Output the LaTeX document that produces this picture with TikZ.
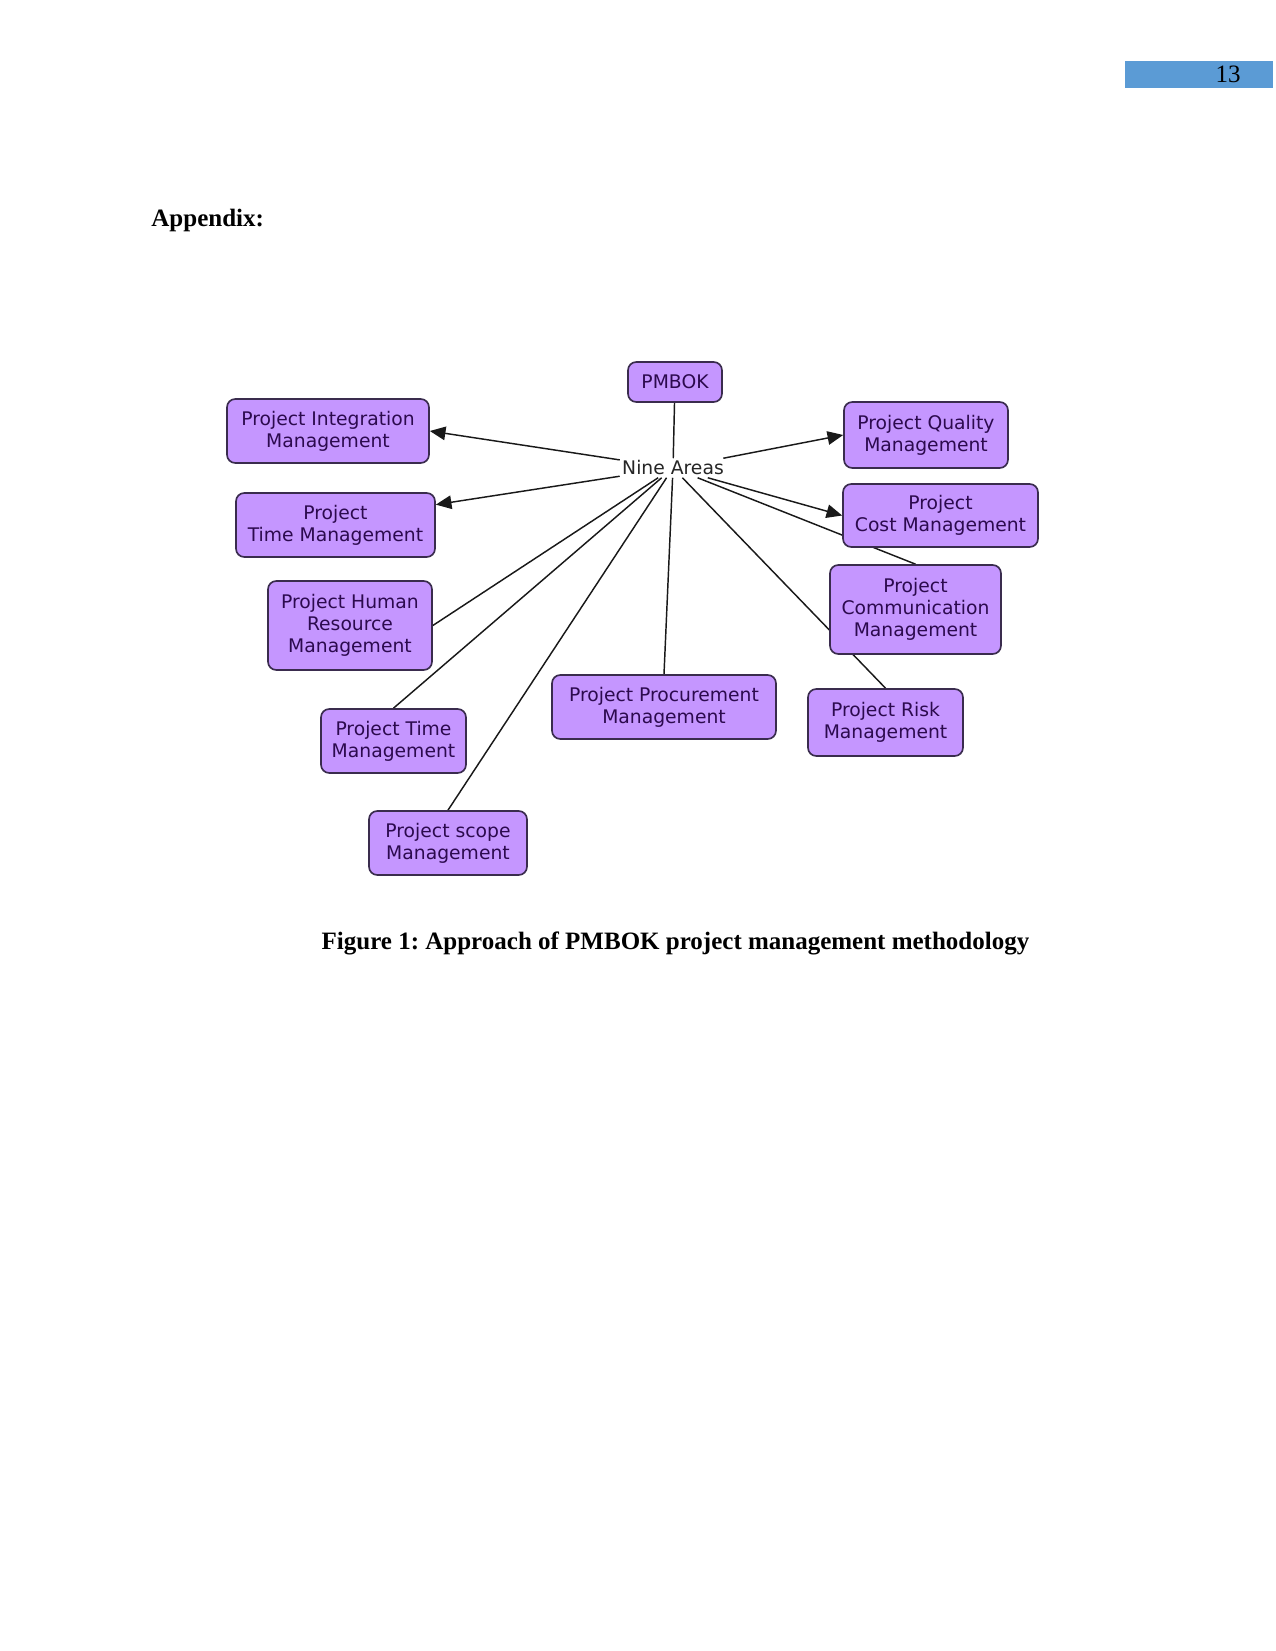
\documentclass[tikz,border=0pt]{standalone}
\usepackage{xcolor}
\usepackage{fontspec}
\setmainfont{Liberation Serif}
\newfontfamily\boxfont{DejaVu Sans}
\usetikzlibrary{arrows.meta, calc, backgrounds}
\definecolor{lilac}{HTML}{C596FF}
\definecolor{plum}{HTML}{2C0A4E}
\definecolor{edge}{HTML}{3A2C4E}
\definecolor{pagebar}{HTML}{5B9BD5}
\frenchspacing

\begin{document}
\begin{tikzpicture}[
  x=0.48pt, y=-0.48pt,
  every node/.style={inner sep=0pt},
  area/.style={
    draw=edge, fill=lilac, text=plum, line width=0.8pt,
    rounded corners=4pt, align=center,
    font=\boxfont\fontsize{9}{10.6}\selectfont
  },
  boxsize/.style 2 args={minimum width=#1*0.48pt, minimum height=#2*0.48pt},
  link/.style={draw=black!90, line width=0.7pt},
  arrow/.style={link, -{Triangle[length=7.5pt, width=6.5pt]}}
]
  \useasboundingbox (0,0) rectangle (1275,1651);

  \node[fill=pagebar, boxsize={148}{27}] (pagebox) at (1199,74.5) {};
  \node[anchor=base, font=\fontsize{12}{14}\selectfont] (pagenum) at (1228,83) {13};
  \node[anchor=base west, font=\bfseries\fontsize{12}{14}\selectfont] (appendix) at (151,227) {Appendix:};

  \node[area, boxsize={94}{40}] (pmbok) at (675,382) {PMBOK};
  \node[font=\boxfont\fontsize{9}{10.6}\selectfont, text=black!85, inner sep=1pt] (nine) at (673,468) {Nine Areas};
  \node[area, boxsize={202}{64}] (integ) at (328,431) {Project Integration\\Management};
  \node[area, boxsize={199}{64}] (time1) at (335.5,525) {Project\\Time Management};
  \node[area, boxsize={164}{89}] (hr) at (350,625.5) {Project Human\\Resource\\Management};
  \node[area, boxsize={145}{64}] (time2) at (393.5,741) {Project Time\\Management};
  \node[area, boxsize={158}{64}] (scope) at (448,843) {Project scope\\Management};
  \node[area, boxsize={224}{64}] (proc) at (664,707) {Project Procurement\\Management};
  \node[area, boxsize={164}{66}] (quality) at (926,435) {Project Quality\\Management};
  \node[area, boxsize={195}{63}] (cost) at (940.5,515.5) {Project\\Cost Management};
  \node[area, boxsize={171}{89}] (comm) at (915.5,609.5) {Project\\Communication\\Management};
  \node[area, boxsize={155}{67}] (risk) at (885.5,722.5) {Project Risk\\Management};

  \node[anchor=base, font=\bfseries\fontsize{12}{14}\selectfont] (caption) at (675.5,949) {Figure 1: Approach of PMBOK project management methodology};

  \begin{scope}[on background layer]
    \fill[white] (0,0) rectangle (1275,1651);
    \draw[link] (pmbok) -- (nine);
    \draw[arrow] (nine) -- (integ.east);
    \draw[arrow] (nine) -- ($(time1.north east)!0.19!(time1.south east)$);
    \draw[arrow] (nine) -- (quality.west);
    \draw[arrow] (nine) -- (cost.west);
    \draw[link] (nine) -- (comm.north);
    \draw[link] (nine) -- (risk.north);
    \draw[link] (nine) -- (proc.north);
    \draw[link] (nine) -- (scope.north);
    \draw[link] (nine) -- (time2.north);
    \draw[link] (nine) -- (hr.east);
  \end{scope}
\end{tikzpicture}
\end{document}
